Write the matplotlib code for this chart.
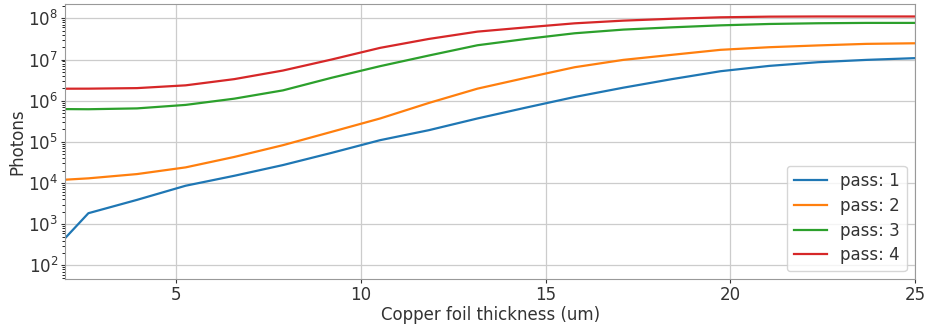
import matplotlib.pyplot as plt

# Foil thickness samples (um)
thickness = [1.316, 2.632, 3.947, 5.263, 6.579, 7.895, 9.211, 10.526, 11.842,
             13.158, 14.474, 15.789, 17.105, 18.421, 19.737, 21.053, 22.368,
             23.684, 25.0]

# Photon counts per pass
pass_1 = [1.0e2, 1.85e3, 3.9e3, 8.6e3, 1.5e4, 2.73e4, 5.4e4, 1.1e5, 1.92e5,
          3.7e5, 6.8e5, 1.23e6, 2.07e6, 3.34e6, 5.2e6, 7.0e6, 8.6e6, 9.8e6,
          1.08e7]
pass_2 = [1.11e4, 1.3e4, 1.65e4, 2.4e4, 4.3e4, 8.3e4, 1.75e5, 3.7e5, 8.8e5,
          1.96e6, 3.6e6, 6.5e6, 9.8e6, 1.3e7, 1.72e7, 1.99e7, 2.2e7, 2.4e7,
          2.48e7]
pass_3 = [6.3e5, 6.2e5, 6.5e5, 7.9e5, 1.12e6, 1.78e6, 3.6e6, 6.9e6, 1.25e7,
          2.22e7, 3.16e7, 4.34e7, 5.33e7, 6.05e7, 6.76e7, 7.3e7, 7.6e7, 7.75e7,
          7.75e7]
pass_4 = [1.95e6, 1.96e6, 2.02e6, 2.36e6, 3.34e6, 5.4e6, 1.0e7, 1.92e7, 3.16e7,
          4.76e7, 6.03e7, 7.57e7, 8.8e7, 9.77e7, 1.06e8, 1.1e8, 1.11e8, 1.11e8,
          1.11e8]

series = [pass_1, pass_2, pass_3, pass_4]
labels = ["pass: 1", "pass: 2", "pass: 3", "pass: 4"]

fig = plt.figure(figsize=(9.25, 3.27), dpi=100)
ax = fig.add_axes([0.0703, 0.146, 0.919, 0.841])

for values, label in zip(series, labels):
    ax.plot(thickness, values, linewidth=1.6, label=label)

ax.set_yscale("log")
ax.set_xlim(2, 25)
ax.set_ylim(46, 2.2e8)
ax.set_xticks([5, 10, 15, 20, 25])
ax.grid(True, which="major", color="#cccccc", linewidth=0.9)
ax.tick_params(labelsize=12, colors="#333333", length=3, pad=2)
ax.tick_params(which="minor", length=2)
for spine in ax.spines.values():
    spine.set_color("#999999")

ax.set_xlabel("Copper foil thickness (um)", fontsize=12, color="#333333", labelpad=1)
ax.set_ylabel("Photons", fontsize=12, color="#333333", labelpad=1)
ax.legend(loc="lower right", fontsize=12, labelcolor="#333333", labelspacing=0.4)

plt.savefig("out.png", dpi=100)
